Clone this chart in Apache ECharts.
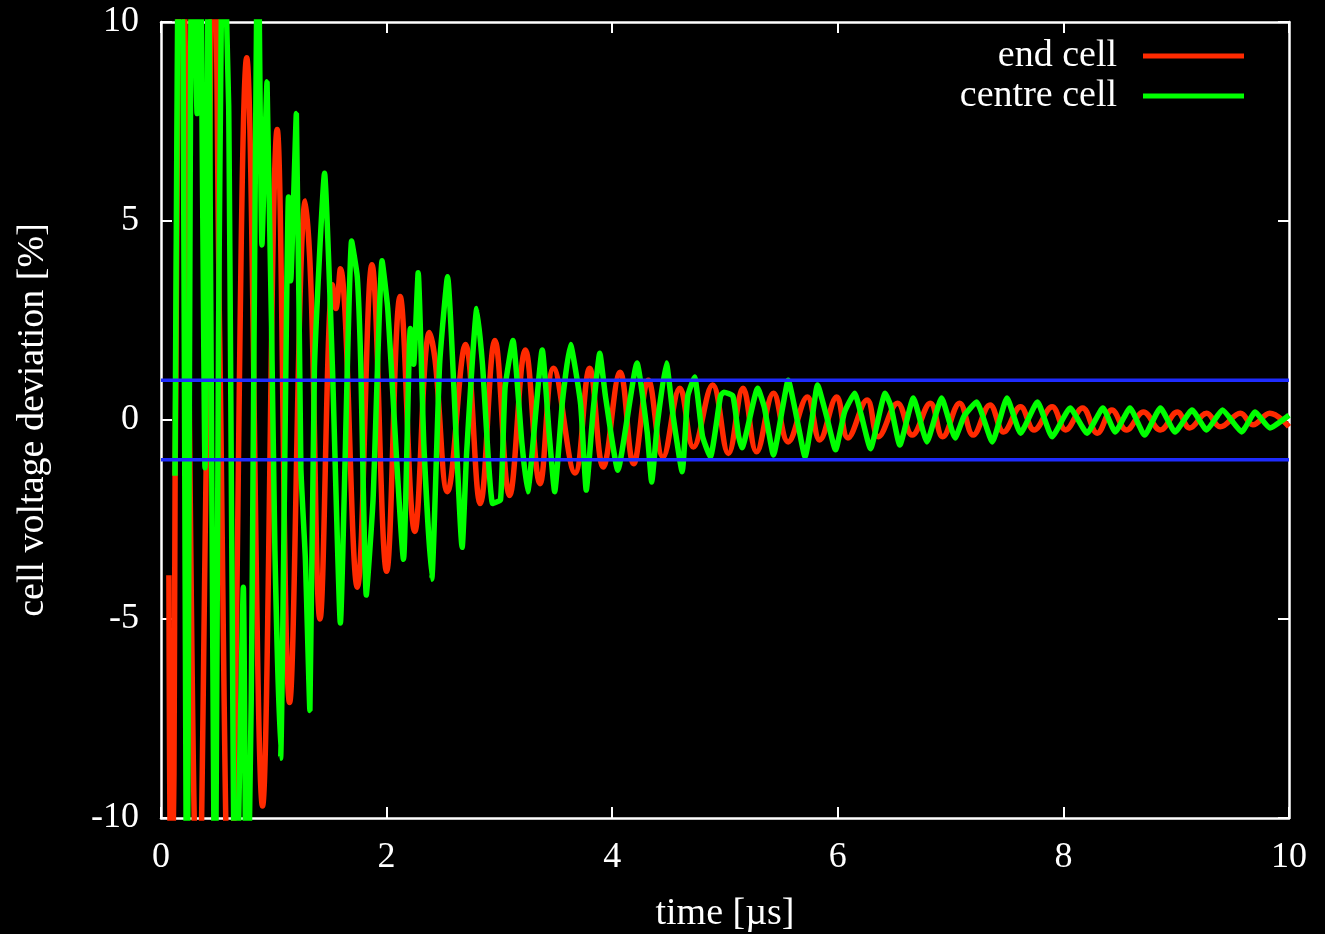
<!DOCTYPE html>
<html>
<head>
<meta charset="utf-8">
<script src="https://cdn.jsdelivr.net/npm/echarts@6/dist/echarts.min.js"></script>
<style>
  html, body { margin: 0; padding: 0; background: #000; }
  #main { width: 1325px; height: 934px; }
</style>
</head>
<body>
<div id="main"></div>
<script>
var xTicks = [0, 2, 4, 6, 8, 10];
var yTicks = [-10, -5, 0, 5, 10];
var limits = [1, -1];

// end cell: [time us, deviation %]
var endCell = [
    [0.07, -3.9], [0.09, -12], [0.115, -8.9], [0.125, -1.45], [0.18, 13],
    [0.33, -13], [0.40, -1.25], [0.47, 13], [0.52, 2.1], [0.61, -13],
    [0.76, 9.1], [0.90, -9.7], [1.03, 7.3], [1.14, -7.1], [1.28, 5.5],
    [1.33, 3.3], [1.41, -5.0], [1.52, 3.4], [1.55, 2.8], [1.59, 3.8],
    [1.74, -4.2], [1.87, 3.9], [2.00, -3.8], [2.12, 3.1], [2.25, -2.8],
    [2.38, 2.2], [2.43, 1.5], [2.54, -1.8], [2.70, 1.9], [2.83, -2.1],
    [2.96, 2.0], [3.09, -1.9], [3.23, 1.76], [3.36, -1.6], [3.48, 1.3],
    [3.67, -1.33], [3.80, 1.3], [3.92, -1.18], [4.07, 1.2], [4.19, -1.1],
    [4.32, 1.0], [4.45, -0.93], [4.60, 0.8], [4.72, -0.68], [4.89, 0.88],
    [5.03, -0.84], [5.16, 0.8], [5.28, -0.8], [5.43, 0.67], [5.56, -0.55],
    [5.73, 0.58], [5.84, -0.5], [5.99, 0.58], [6.09, -0.45], [6.26, 0.5],
    [6.36, -0.42], [6.53, 0.42], [6.66, -0.38], [6.82, 0.42], [6.93, -0.42],
    [7.08, 0.42], [7.20, -0.38], [7.35, 0.38], [7.47, -0.3], [7.62, 0.33],
    [7.74, -0.25], [7.90, 0.33], [8.02, -0.25], [8.17, 0.3], [8.30, -0.33],
    [8.43, 0.25], [8.56, -0.25], [8.71, 0.2], [8.86, -0.25], [9.01, 0.2],
    [9.12, -0.2], [9.27, 0.17], [9.39, -0.17], [9.57, 0.17], [9.68, -0.12],
    [9.83, 0.17], [10.0, -0.17]
];

// centre cell: [time us, deviation %]
var centreCell = [
    [0.124, -1.4], [0.16, 14], [0.195, 9.4], [0.23, -14], [0.275, 14],
    [0.32, 7.7], [0.345, 13], [0.39, -1.2], [0.42, 13], [0.44, 3.5],
    [0.48, -14], [0.51, 2.1], [0.55, 13], [0.60, 7.9], [0.66, -14],
    [0.73, -4.2], [0.76, -14], [0.80, -7.0], [0.86, 13], [0.895, 4.4],
    [0.94, 8.5], [1.01, -3.3], [1.06, -8.5], [1.13, 5.6], [1.15, 3.5],
    [1.20, 7.7], [1.24, -1.2], [1.28, -3.5], [1.32, -7.3], [1.36, 1.3],
    [1.45, 6.2], [1.52, 1.3], [1.59, -5.1], [1.69, 4.5], [1.74, 3.6],
    [1.77, 1.5], [1.82, -4.4], [1.88, -2.0], [1.96, 4.0], [2.01, 2.8],
    [2.15, -3.5], [2.21, 2.3], [2.24, 1.4], [2.28, 3.7], [2.33, -0.6],
    [2.40, -4.0], [2.47, 1.4], [2.54, 3.6], [2.67, -3.2], [2.71, -0.8],
    [2.80, 2.8], [2.85, 1.4], [2.94, -2.1], [3.01, -2.0], [3.05, 0.8],
    [3.12, 2.0], [3.20, -0.6], [3.25, -1.8], [3.38, 1.76], [3.44, -0.3],
    [3.49, -1.8], [3.56, 0.5], [3.63, 1.9], [3.72, 0.4], [3.77, -1.76],
    [3.83, 0.2], [3.89, 1.68], [3.94, 0.6], [4.05, -1.26], [4.22, 1.43],
    [4.31, -0.3], [4.35, -1.56], [4.40, -0.1], [4.48, 1.43], [4.54, 0.1],
    [4.62, -1.3], [4.67, 0.6], [4.73, 1.08], [4.80, -0.4], [4.87, -0.93],
    [4.96, 0.6], [4.99, 0.7], [5.07, 0.6], [5.12, -0.4], [5.15, -0.7],
    [5.29, 0.8], [5.35, 0.3], [5.43, -0.88], [5.51, 0.3], [5.56, 1.0],
    [5.64, 0.0], [5.71, -0.93], [5.77, 0.0], [5.82, 0.88], [5.90, 0.1],
    [5.98, -0.75], [6.06, 0.2], [6.15, 0.67], [6.21, 0.1], [6.29, -0.72],
    [6.42, 0.67], [6.47, 0.35], [6.55, -0.63], [6.67, 0.55], [6.79, -0.55],
    [6.92, 0.55], [7.04, -0.45], [7.12, 0.1], [7.23, 0.45], [7.37, -0.55],
    [7.50, 0.55], [7.62, -0.33], [7.77, 0.45], [7.90, -0.42], [8.06, 0.3],
    [8.21, -0.33], [8.35, 0.3], [8.46, -0.3], [8.59, 0.3], [8.72, -0.38],
    [8.86, 0.3], [8.99, -0.3], [9.14, 0.25], [9.27, -0.25], [9.41, 0.25],
    [9.58, -0.3], [9.70, 0.2], [9.83, -0.2], [10.0, 0.12]
];

var font = 'Liberation Serif';
var chart = echarts.init(document.getElementById('main'));

var baseAxis = {
    axisLine: { show: true, onZero: false, lineStyle: { color: '#fff', width: 2.5 } },
    axisTick: { show: true, inside: true, length: 11, lineStyle: { color: '#fff', width: 2 } },
    splitLine: { show: false },
    nameTextStyle: { color: '#fff', fontFamily: font, fontSize: 38 },
    axisLabel: { color: '#fff', fontFamily: font, fontSize: 36 }
};

function limitSeries(v) {
    return {
        type: 'line',
        data: [[xTicks[0], v], [xTicks[xTicks.length - 1], v]],
        showSymbol: false,
        silent: true,
        z: 5,
        lineStyle: { color: '#1e2cff', width: 3.5 }
    };
}

var option = {
    backgroundColor: '#000',
    animation: false,
    grid: {
        left: 161, right: 36, top: 22, bottom: 116,
        containLabel: false, outerBoundsMode: 'none'
    },
    legend: {
        data: ['end cell', 'centre cell'],
        orient: 'vertical',
        align: 'right',
        right: 81,
        top: 37,
        padding: 0,
        itemGap: 2,
        itemWidth: 101,
        itemHeight: 5,
        icon: 'rect',
        textStyle: { color: '#fff', fontFamily: font, fontSize: 38, padding: [0, 21, 0, 0] }
    },
    xAxis: [
        Object.assign({}, baseAxis, {
            type: 'value', min: 0, max: 10, interval: 2,
            name: 'time [µs]', nameLocation: 'middle', nameGap: 77,
            axisLabel: Object.assign({}, baseAxis.axisLabel, { margin: 22 })
        }),
        Object.assign({}, baseAxis, {
            type: 'value', min: 0, max: 10, interval: 2, position: 'top',
            axisLabel: { show: false }
        })
    ],
    yAxis: [
        Object.assign({}, baseAxis, {
            type: 'value', min: -10, max: 10, interval: 5,
            name: 'cell voltage deviation [%]', nameLocation: 'middle', nameGap: 109,
            axisLabel: Object.assign({}, baseAxis.axisLabel, { margin: 22 })
        }),
        Object.assign({}, baseAxis, {
            type: 'value', min: -10, max: 10, interval: 5, position: 'right',
            axisLabel: { show: false }
        })
    ],
    series: [
        {
            name: 'end cell',
            type: 'line',
            data: endCell,
            showSymbol: false,
            smooth: 0.4,
            z: 2,
            itemStyle: { color: '#ff2a00' },
            lineStyle: { color: '#ff2a00', width: 5.5 }
        },
        {
            name: 'centre cell',
            type: 'line',
            data: centreCell,
            showSymbol: false,
            smooth: 0.15,
            z: 3,
            itemStyle: { color: '#00ff00' },
            lineStyle: { color: '#00ff00', width: 5.5 }
        },
        limitSeries(limits[0]),
        limitSeries(limits[1])
    ]
};

chart.setOption(option);
</script>
</body>
</html>
